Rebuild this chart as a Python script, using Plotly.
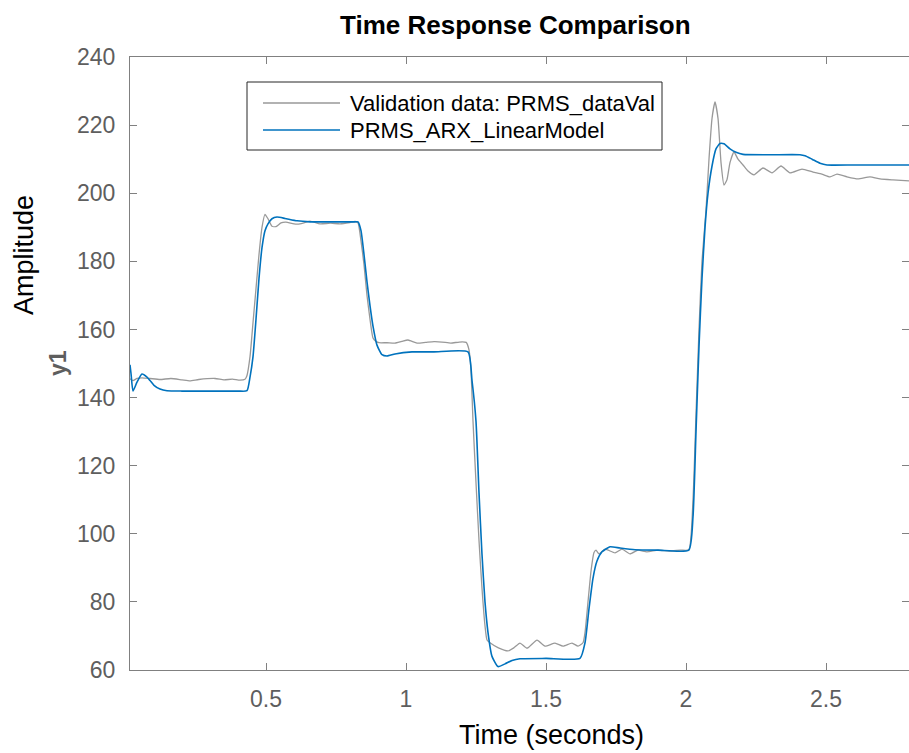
import plotly.graph_objects as go

# ---------------- data ----------------
t_val = [0.0143, 0.0250, 0.0393, 0.0571, 0.0857, 0.1214, 0.1600, 0.2000, 0.2286, 0.2600,
         0.3179, 0.3500, 0.3800, 0.4071, 0.4250, 0.4321, 0.4429, 0.4536, 0.4643, 0.4750,
         0.4857, 0.4964, 0.5071, 0.5214, 0.5357, 0.5536, 0.5714, 0.6000, 0.6214, 0.6571,
         0.6929, 0.7300, 0.7643, 0.8000, 0.8179, 0.8286, 0.8393, 0.8500, 0.8607, 0.8714,
         0.8821, 0.8929, 0.9036, 0.9321, 0.9607, 0.9850, 1.0071, 1.0393, 1.0700, 1.1000,
         1.1286, 1.1600, 1.1900, 1.2150, 1.2250, 1.2321, 1.2393, 1.2500, 1.2607, 1.2714,
         1.2821, 1.2893, 1.3000, 1.3300, 1.3643, 1.3850, 1.4071, 1.4321, 1.4679, 1.4964,
         1.5321, 1.5607, 1.5929, 1.6143, 1.6321, 1.6393, 1.6500, 1.6607, 1.6714, 1.6786,
         1.6893, 1.7107, 1.7464, 1.7714, 1.8000, 1.8286, 1.8600, 1.9000, 1.9400, 1.9800,
         2.0100, 2.0250, 2.0357, 2.0464, 2.0571, 2.0714, 2.0821, 2.0929, 2.1036, 2.1143,
         2.1250, 2.1357, 2.1464, 2.1571, 2.1714, 2.1857, 2.2036, 2.2214, 2.2429, 2.2750,
         2.3071, 2.3393, 2.3714, 2.4143, 2.4536, 2.4850, 2.5143, 2.5393, 2.5750, 2.6143,
         2.6571, 2.6929, 2.7393, 2.7964]
y_val = [145.5, 145.0, 145.6, 145.8, 145.6, 145.3, 145.6, 145.2, 144.9, 145.3,
         145.6, 145.2, 145.4, 145.1, 145.4, 146.5, 152.0, 162.0, 172.0, 182.0,
         190.0, 193.8, 192.5, 190.3, 190.2, 191.3, 191.5, 191.0, 191.0, 191.8,
         191.0, 191.2, 191.0, 191.4, 191.7, 191.3, 186.0, 179.0, 170.0, 163.0,
         157.5, 156.5, 156.1, 156.1, 156.0, 156.5, 156.9, 156.0, 156.2, 156.4,
         156.3, 156.0, 156.3, 156.2, 154.0, 148.0, 133.0, 115.0, 98.0, 84.0,
         73.0, 68.8, 68.0, 66.5, 65.6, 66.5, 67.9, 66.4, 68.8, 67.0,
         67.9, 67.0, 67.9, 67.0, 68.0, 71.0, 80.0, 89.0, 94.5, 95.2,
         94.1, 95.5, 94.4, 95.5, 94.1, 95.2, 94.7, 95.2, 94.9, 95.2,
         95.3, 110.0, 135.0, 160.0, 180.0, 195.0, 210.0, 222.0, 226.8, 222.0,
         209.0, 202.4, 204.0, 209.0, 212.1, 210.0, 208.3, 206.5, 205.4, 207.4,
         206.0, 208.0, 206.0, 207.1, 206.2, 205.6, 204.8, 205.6, 204.8, 204.2,
         204.8, 204.2, 203.9, 203.6]

t_mod = [0.0143, 0.0180, 0.0250, 0.0393, 0.0571, 0.0750, 0.0857, 0.1000, 0.1214, 0.1464,
         0.2000, 0.3000, 0.4000, 0.4321, 0.4429, 0.4536, 0.4643, 0.4750, 0.4857, 0.4964,
         0.5071, 0.5214, 0.5393, 0.5679, 0.6107, 0.6571, 0.7500, 0.8179, 0.8286, 0.8393,
         0.8500, 0.8607, 0.8714, 0.8821, 0.8964, 0.9143, 0.9321, 0.9607, 1.0214, 1.1000,
         1.2214, 1.2357, 1.2500, 1.2607, 1.2714, 1.2821, 1.2929, 1.3071, 1.3286, 1.3536,
         1.3786, 1.4071, 1.5000, 1.6214, 1.6393, 1.6536, 1.6679, 1.6821, 1.7000, 1.7286,
         1.7643, 1.8179, 1.9000, 2.0100, 2.0250, 2.0357, 2.0464, 2.0571, 2.0679, 2.0786,
         2.0929, 2.1071, 2.1214, 2.1357, 2.1571, 2.1786, 2.2036, 2.3000, 2.4071, 2.4250,
         2.4500, 2.4786, 2.5036, 2.6000, 2.7964]
y_mod = [149.6, 147.0, 141.9, 144.5, 146.9, 146.0, 145.0, 143.6, 142.5, 142.0,
         141.9, 141.9, 141.9, 142.0, 146.0, 152.0, 163.0, 175.0, 184.0, 189.0,
         191.0, 192.5, 193.0, 192.6, 191.9, 191.6, 191.6, 191.6, 191.6, 189.0,
         182.0, 174.0, 167.0, 161.0, 155.4, 152.6, 152.2, 152.8, 153.4, 153.4,
         153.4, 145.0, 133.0, 112.0, 94.0, 80.0, 71.0, 64.0, 61.0, 61.8,
         62.8, 63.3, 63.4, 63.4, 68.0, 78.0, 87.0, 92.0, 94.7, 96.2,
         95.8, 95.3, 95.2, 95.2, 105.0, 130.0, 155.0, 175.0, 190.0, 200.0,
         208.0, 213.0, 214.6, 214.5, 213.0, 212.0, 211.4, 211.3, 211.3, 211.0,
         210.0, 208.8, 208.3, 208.3, 208.3]

series_names = ["Validation data: PRMS_dataVal", "PRMS_ARX_LinearModel"]
x_ticks = [0.5, 1, 1.5, 2, 2.5]
y_ticks = [60, 80, 100, 120, 140, 160, 180, 200, 220, 240]

# ---------------- figure ----------------
W, H = 909, 753
L, R, T, B = 130, 0, 57, 83
pw, ph = W - L - R, H - T - B
FONT = "Liberation Sans, Arial, Helvetica, sans-serif"
GRAY_COL = "#999999"
BLUE_COL = "#0072BD"
AX_COL = "#808080"
TICK_TXT = "#5e5e5e"


def px(xp):
    return (xp - L) / pw


def py(yp):
    return (H - B - yp) / ph


fig = go.Figure()
fig.add_trace(go.Scatter(x=t_val, y=y_val, mode="lines", name=series_names[0],
                         line=dict(color=GRAY_COL, width=1.3, shape="spline", smoothing=0.5),
                         showlegend=False))
fig.add_trace(go.Scatter(x=t_mod, y=y_mod, mode="lines", name=series_names[1],
                         line=dict(color=BLUE_COL, width=1.6, shape="spline", smoothing=0.5),
                         showlegend=False))

axis_common = dict(showgrid=False, zeroline=False, showline=True, linecolor=AX_COL,
                   linewidth=1, mirror="ticks", ticks="inside", ticklen=7,
                   tickcolor=AX_COL, tickwidth=1,
                   tickfont=dict(family=FONT, size=23, color=TICK_TXT))

fig.update_xaxes(range=[t_val[0], t_val[-1]], tickvals=x_ticks,
                 ticktext=[str(v) for v in x_ticks], ticklabelstandoff=8, **axis_common)
fig.update_yaxes(range=[60, 240], tickvals=y_ticks,
                 ticktext=[str(v) for v in y_ticks], ticklabelstandoff=9, **axis_common)

annotations = [
    dict(text="<b>Time Response Comparison</b>", x=px(515), y=py(25), xref="paper", yref="paper",
         xanchor="center", yanchor="middle", showarrow=False,
         font=dict(family=FONT, size=26, color="black")),
    dict(text="Time (seconds)", x=px(551), y=py(735), xref="paper", yref="paper",
         xanchor="center", yanchor="middle", showarrow=False,
         font=dict(family=FONT, size=27, color="black")),
    dict(text="Amplitude", x=px(24), y=py(255), xref="paper", yref="paper",
         xanchor="center", yanchor="middle", showarrow=False, textangle=-90,
         font=dict(family=FONT, size=27, color="black")),
    dict(text="<b>y1</b>", x=px(58), y=py(363), xref="paper", yref="paper",
         xanchor="center", yanchor="middle", showarrow=False, textangle=-90,
         font=dict(family=FONT, size=23, color="#5e5e5e")),
]

# manual legend (MATLAB style)
leg_x0, leg_x1, leg_y0, leg_y1 = 247, 662, 82, 150
rows = [(103, GRAY_COL, 1.3, series_names[0]), (130, BLUE_COL, 1.6, series_names[1])]
shapes = [dict(type="rect", xref="paper", yref="paper",
               x0=px(leg_x0), x1=px(leg_x1), y0=py(leg_y1), y1=py(leg_y0),
               line=dict(color="#262626", width=1), fillcolor="white", layer="above")]
for yrow, col, lw, name in rows:
    shapes.append(dict(type="line", xref="paper", yref="paper",
                       x0=px(263), x1=px(340), y0=py(yrow), y1=py(yrow),
                       line=dict(color=col, width=lw), layer="above"))
    annotations.append(dict(text=name, x=px(348), y=py(yrow), xref="paper", yref="paper",
                            xanchor="left", yanchor="middle", showarrow=False,
                            font=dict(family=FONT, size=22, color="black")))

fig.update_layout(width=W, height=H, margin=dict(l=L, r=R, t=T, b=B),
                  paper_bgcolor="white", plot_bgcolor="white",
                  annotations=annotations, shapes=shapes, showlegend=False)

fig.write_html("out.html")
